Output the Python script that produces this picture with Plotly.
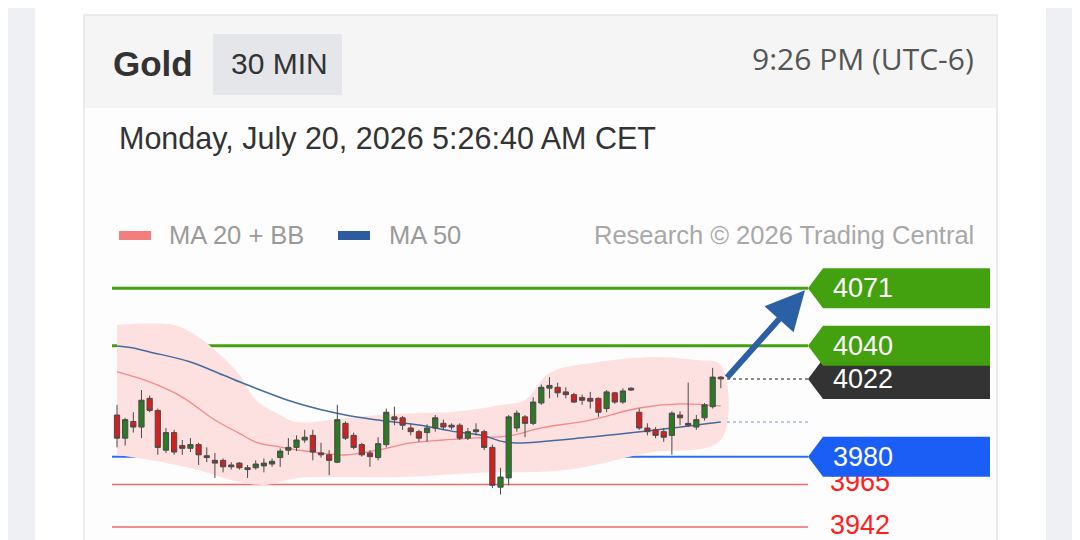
import plotly.graph_objects as go

# 30 min candles, Gold
opens = [4002.5, 3990, 3999, 3996, 4011.5, 4005, 3983.5, 3993, 3986, 3984.5,
         3986.5, 3980.5, 3978, 3978, 3975.5, 3976.5, 3974, 3974, 3975, 3976,
         3979.5, 3983.5, 3985, 3989, 3991.5, 3982, 3981, 3977, 3998, 3991.5,
         3986.5, 3982, 3979.5, 3986.5, 4001.5, 4001, 3995.5, 3993.5, 3993, 3995.5,
         3998, 3997, 3997, 3990, 3993.5, 3993.5, 3985, 3963.5, 3968.5, 3995.5,
         4001.5, 3998, 4009, 4017, 4017.5, 4015, 4013.5, 4012, 4011.5, 4011.5,
         4006, 4014.5, 4009.5, 4017, 4004, 3995.5, 3994.5, 3993.5, 3991.5, 4002.5,
         3998, 3996, 4001, 4007, 4023]
highs = [4008, 4001, 4004, 4016, 4013, 4006, 3995.5, 3994.5, 3989, 3990,
         3987.5, 3985, 3982, 3979, 3977, 3977, 3975.5, 3978, 3979, 3979,
         3984.5, 3990, 3991.5, 3994.5, 3994.5, 3987.5, 3983.5, 4008, 3999, 3993,
         3987.5, 3983.5, 3990.5, 4006, 4007, 4002, 3997.5, 3994.5, 3997.5, 4002.5,
         4000, 3998, 3998, 3995.5, 3998, 3994.5, 3986.5, 3974, 4002.5, 4005,
         4002.5, 4012, 4019, 4023, 4020, 4017.5, 4014.5, 4013.5, 4015, 4012,
         4016, 4015, 4017, 4017.5, 4006, 3998, 3996, 3995.5, 4004.5, 4004.5,
         4020, 4002.5, 4009, 4028, 4023.5]
lows = [3985, 3986, 3993, 3990, 4004, 3981, 3982, 3981, 3981, 3982.5,
        3975.5, 3977, 3968.5, 3971.5, 3973, 3973, 3968.5, 3973, 3971.5, 3974.5,
        3974.5, 3981, 3983, 3987.5, 3978, 3979.5, 3970, 3976.5, 3989, 3984,
        3980, 3974.5, 3978, 3985, 3997, 3994.5, 3991.5, 3988, 3988, 3993.5,
        3994.5, 3994.5, 3989, 3989, 3991.5, 3983.5, 3963, 3959.5, 3964.5, 3993.5,
        3990.5, 3997, 4008, 4011.5, 4012, 4011.5, 4009, 4008, 4006, 4001.5,
        4004, 4008.5, 4008.5, 4015.5, 3994.5, 3991.5, 3990, 3988, 3981, 3997,
        3996, 3994.5, 3999.5, 4006, 4017]
closes = [3990, 4000, 3996, 4010.5, 4005, 3985, 3993, 3982.5, 3984.5, 3986.5,
          3981, 3979.5, 3976.5, 3974.5, 3974.5, 3974, 3973, 3976, 3976.5, 3977.5,
          3983, 3985, 3989, 3990.5, 3982.5, 3981, 3978, 4000, 3990, 3985,
          3981, 3980, 3987, 4004, 4000, 3997, 3993.5, 3990, 3995.5, 4001,
          3996, 3996, 3990, 3993.5, 3994.5, 3985, 3964.5, 3969, 4001.5, 4003.5,
          3998, 4009.5, 4017.5, 4018.5, 4014.5, 4013.5, 4009.5, 4010.5, 4010, 4004,
          4015, 4009.5, 4015.5, 4016, 3995.5, 3993.5, 3991.5, 3990.5, 4003.5, 4001,
          3997, 4000, 4008, 4023, 4022]

# moving averages and bands, read at some candle positions
ma20_idx = [0, 4, 8, 12, 15, 17, 20, 24, 28, 32, 36, 40, 44, 48, 52, 58, 64, 69, 74]
ma20 = [4025.8, 4020.4, 4012.2, 3999.8, 3992.6, 3987.9, 3985.2, 3982.5, 3980.9, 3983.6,
        3987.4, 3989.0, 3990.1, 3991.2, 3995.5, 3999.8, 4006.3, 4008.5, 4007.4]
ma50_idx = [0, 2, 4, 9, 13, 16, 22, 28, 32, 37, 41, 45, 47, 49, 58, 66, 74]
ma50 = [4039.8, 4038.7, 4036.6, 4031.2, 4024.1, 4018.7, 4009.0, 4002.5, 3999.8, 3997.1,
        3993.8, 3991.2, 3988.4, 3987.4, 3990.6, 3994.4, 3998.7]
bb_up_idx = [0, 7, 10, 12, 15, 17, 20, 22, 28, 32, 37, 41, 45, 47, 50, 53, 59, 66, 71, 74]
bb_up = [4051.2, 4051.2, 4044.7, 4037.6, 4024.1, 4010.6, 4002.5, 3998.7, 4000.8, 4002.5,
         4003.6, 4004.1, 4006.3, 4007.9, 4010.6, 4025.2, 4031.2, 4033.9, 4032.2, 4029.5]
bb_lo_idx = [0, 4, 6, 10, 14, 18, 22, 27, 35, 44, 55, 65, 74]
bb_lo = [3980.9, 3978.2, 3976.6, 3972.8, 3967.4, 3964.7, 3968.5, 3969.0, 3969.0, 3971.2,
         3972.8, 3982.0, 3989.0]

# key levels
res_levels = [4071, 4040]
sup_levels = [3980]
other_levels = [3965, 3942]
last_price = 4022

# the page body has an 8px margin, so the figure starts at (8, 8)
OFF = 8
W, H = 1080 - OFF, 540 - OFF
x0_px, step_px = 117, 8.16          # first candle centre, candle spacing
y_ref, y_ref_px, y_scale = 4071, 288.3, 1.85   # price at a pixel row, px per unit


def px(x):
    return (x - OFF) / W


def py(y):
    return 1 - (y - OFF) / H


def idx_at(x):
    return (x - x0_px) / step_px


def price_at(y):
    return y_ref - (y - y_ref_px) / y_scale


fig = go.Figure()

# Bollinger band and moving averages (main subplot, under the candles)
fig.add_trace(go.Scatter(
    x=bb_up_idx + bb_lo_idx[::-1], y=bb_up + bb_lo[::-1],
    fill='toself', fillcolor='#fde1e1', line=dict(width=0),
    mode='lines', line_shape='spline', hoverinfo='skip'))
fig.add_trace(go.Scatter(x=ma20_idx, y=ma20, mode='lines', line_shape='spline',
                         line=dict(color='#f28a8a', width=1.3), hoverinfo='skip'))
fig.add_trace(go.Scatter(x=ma50_idx, y=ma50, mode='lines', line_shape='spline',
                         line=dict(color='#46699e', width=1.5), hoverinfo='skip'))

# candles sit on an overlaying axis pair so they draw above the band
fig.add_trace(go.Candlestick(
    x=list(range(len(opens))), open=opens, high=highs, low=lows, close=closes,
    xaxis='x2', yaxis='y2',
    increasing=dict(fillcolor='#2b7a24', line=dict(color='#4a4a4a', width=1)),
    decreasing=dict(fillcolor='#d61f1f', line=dict(color='#4a4a4a', width=1)),
    hoverinfo='skip'))

# red levels are text only, partly hidden by the blue tag
fig.add_trace(go.Scatter(
    x=[idx_at(830)] * len(other_levels), y=other_levels, mode='text',
    text=[str(v) for v in other_levels], textposition='middle right',
    textfont=dict(family='Liberation Sans', size=27, color='#ff2020'),
    hoverinfo='skip'))

shapes = [
    # page and card
    dict(type='rect', xref='paper', yref='paper', x0=-0.05, x1=px(35), y0=-0.05, y1=1.05,
         fillcolor='#eff0f4', line_width=0, layer='below'),
    dict(type='rect', xref='paper', yref='paper', x0=px(1046), x1=1.05, y0=-0.05, y1=1.05,
         fillcolor='#eff0f4', line_width=0, layer='below'),
    dict(type='rect', xref='paper', yref='paper', x0=px(1072), x1=1.05, y0=py(429), y1=1.05,
         fillcolor='#bdbdbd', line_width=0, layer='below'),
    dict(type='rect', xref='paper', yref='paper', x0=px(84), x1=px(997), y0=-0.05, y1=py(15),
         fillcolor='#fdfdfd', line=dict(color='#e4e5e8', width=1.5), layer='below'),
    dict(type='rect', xref='paper', yref='paper', x0=px(85), x1=px(996), y0=py(108), y1=py(16),
         fillcolor='#f5f5f5', line_width=0, layer='below'),
    dict(type='rect', xref='paper', yref='paper', x0=px(213), x1=px(342), y0=py(95), y1=py(34),
         fillcolor='#e5e6ea', line_width=0, layer='below'),
    # legend swatches
    dict(type='rect', xref='paper', yref='paper', x0=px(119), x1=px(151), y0=py(240), y1=py(231),
         fillcolor='#f47e7e', line_width=0),
    dict(type='rect', xref='paper', yref='paper', x0=px(338), x1=px(370), y0=py(240), y1=py(231),
         fillcolor='#2d5b9f', line_width=0),
]

for v in res_levels:
    shapes.append(dict(type='line', xref='paper', yref='y', x0=px(112), x1=px(808), y0=v, y1=v,
                       line=dict(color='#43a10f', width=3), layer='below'))
for v in sup_levels:
    shapes.append(dict(type='line', xref='paper', yref='y', x0=px(112), x1=px(808), y0=v, y1=v,
                       line=dict(color='#2f6ef0', width=2), layer='below'))
for v in other_levels:
    shapes.append(dict(type='line', xref='paper', yref='y', x0=px(112), x1=px(808), y0=v, y1=v,
                       line=dict(color='#f26a6a', width=1.5), layer='below'))

# dotted extensions of last price and MA 50
shapes.append(dict(type='line', xref='paper', yref='y', x0=px(727), x1=px(808),
                   y0=last_price, y1=last_price, line=dict(color='#666666', width=1.5, dash='dot')))
shapes.append(dict(type='line', xref='paper', yref='y', x0=px(727), x1=px(808),
                   y0=ma50[-1], y1=ma50[-1], line=dict(color='#a8b8d2', width=1.5, dash='dot')))

tag_path = 'M0,0 L15,20 L182,20 L182,-20 L15,-20 Z'
tags = [(last_price, '#333333')] + [(v, '#43a10f') for v in res_levels[::-1]] + \
       [(v, '#1a5ef5') for v in sup_levels]
for v, c in tags:
    shapes.append(dict(type='path', xref='paper', yref='y', xsizemode='pixel', ysizemode='pixel',
                       xanchor=px(808), yanchor=v, path=tag_path, fillcolor=c, line_width=0))

ann = [
    dict(x=px(111), y=py(63), text='<b>Gold</b>', xanchor='left',
         font=dict(family='Liberation Sans', size=35, color='#333333')),
    dict(x=px(229), y=py(63), text='30 MIN', xanchor='left',
         font=dict(family='Liberation Sans', size=30, color='#333333')),
    dict(x=px(976), y=py(58), text='9:26 PM (UTC-6)', xanchor='right',
         font=dict(family='Open Sans', size=30, color='#555555')),
    dict(x=px(117), y=py(139), text='Monday, July 20, 2026 5:26:40 AM CET', xanchor='left',
         font=dict(family='Liberation Sans', size=30.5, color='#333333')),
    dict(x=px(167), y=py(235), text='MA 20 + BB', xanchor='left',
         font=dict(family='Liberation Sans', size=25.5, color='#9a9a9a')),
    dict(x=px(387), y=py(235), text='MA 50', xanchor='left',
         font=dict(family='Liberation Sans', size=25.5, color='#9a9a9a')),
    dict(x=px(976), y=py(235), text='Research © 2026 Trading Central', xanchor='right',
         font=dict(family='Liberation Sans', size=25.5, color='#a8a8a8')),
]
for a in ann:
    a.update(xref='paper', yref='paper', yanchor='middle', showarrow=False)

for v, c in tags:
    ann.append(dict(x=px(831), y=v, xref='paper', yref='y', text=str(v), xanchor='left',
                    yanchor='middle', showarrow=False,
                    font=dict(family='Liberation Sans', size=27, color='white')))

# target arrow from last price to first resistance
ann.append(dict(x=idx_at(805), y=res_levels[0] - 1, ax=len(closes) - 1 + 0.6, ay=last_price,
                xref='x', yref='y', axref='x', ayref='y', text='', showarrow=True,
                arrowhead=2, arrowsize=1.3, arrowwidth=6, arrowcolor='#2c60a6'))

x_range = [idx_at(OFF), idx_at(OFF + W)]
y_range = [price_at(OFF + H), price_at(OFF)]
fig.update_layout(
    width=W, height=H, margin=dict(l=0, r=0, t=0, b=0),
    paper_bgcolor='white', plot_bgcolor='rgba(0,0,0,0)',
    showlegend=False, shapes=shapes, annotations=ann,
    boxgap=0.2, boxgroupgap=0.2,
    xaxis=dict(range=x_range, visible=False, fixedrange=True),
    yaxis=dict(range=y_range, visible=False, fixedrange=True),
    xaxis2=dict(range=x_range, visible=False, overlaying='x', fixedrange=True,
                rangeslider=dict(visible=False)),
    yaxis2=dict(range=y_range, visible=False, overlaying='y', fixedrange=True),
)

fig.write_html("out.html")
